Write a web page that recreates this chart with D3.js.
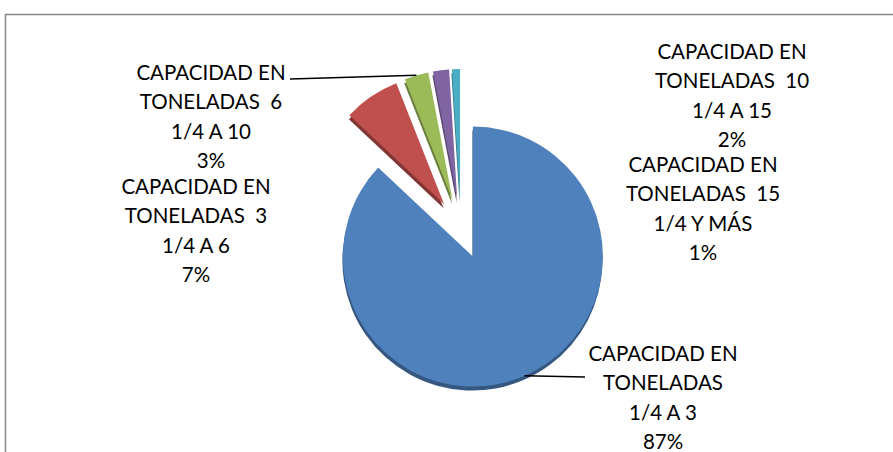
<!DOCTYPE html>
<html>
<head>
<meta charset="utf-8">
<script src="https://cdn.jsdelivr.net/npm/d3@7"></script>
<style>
  body { margin: 0; background: #fff; }
  text { font-family: Lato, "Open Sans", sans-serif; fill: #000; white-space: pre; }
</style>
</head>
<body>
<svg width="893" height="452"></svg>
<script>
// slice data, in drawing order (clockwise from 12 o'clock)
const categories = [
    "CAPACIDAD EN TONELADAS  1/4 A 3",
    "CAPACIDAD EN TONELADAS  3 1/4 A 6",
    "CAPACIDAD EN TONELADAS  6 1/4 A 10",
    "CAPACIDAD EN TONELADAS  10 1/4 A 15",
    "CAPACIDAD EN TONELADAS  15 1/4 Y MÁS"
];
const values = [87, 7, 3, 2, 1];

// label text as the chart wraps it
const labelLines = [
    ["CAPACIDAD EN", "TONELADAS", "1/4 A 3"],
    ["CAPACIDAD EN", "TONELADAS  3", "1/4 A 6"],
    ["CAPACIDAD EN", "TONELADAS  6", "1/4 A 10"],
    ["CAPACIDAD EN", "TONELADAS  10", "1/4 A 15"],
    ["CAPACIDAD EN", "TONELADAS  15", "1/4 Y MÁS"]
];

const colors = ["#4f81bd", "#c0504d", "#9bbb59", "#8064a2", "#4bacc6"];

// layout: label centre x / first baseline, and where leader lines end
const labelPos = [[663, 361], [196, 194], [211, 80], [732, 59], [703, 172]];
const leaderEnd = { 0: [585, 377], 2: [290, 79] };

var svg = d3.select("svg"),
    width = +svg.attr("width"),
    height = +svg.attr("height");

// chart frame (right and bottom fall outside the picture)
svg.append("rect")
    .attr("x", 5.5)
    .attr("y", 14.5)
    .attr("width", width + 20)
    .attr("height", height + 20)
    .attr("fill", "none")
    .attr("stroke", "#878787")
    .attr("stroke-width", 1.5);

const cx = 461, cy = 229, radius = 130, explode = 30, lineH = 29.3;

var pie = d3.pie().sort(null).value(d => d);
var arcs = pie(values);
var arc = d3.arc().innerRadius(0).outerRadius(radius);

const midAngle = d => (d.startAngle + d.endAngle) / 2;
const offset = d => [explode * Math.sin(midAngle(d)), -explode * Math.cos(midAngle(d))];

var pieG = svg.append("g").attr("transform", `translate(${cx},${cy})`);

// slice side (3d depth), then top face
var slices = pieG.selectAll("g.slice")
    .data(arcs)
    .enter().append("g")
    .attr("class", "slice")
    .attr("transform", d => `translate(${offset(d)})`);

slices.append("path")
    .attr("d", arc)
    .attr("transform", "translate(-0.5,4)")
    .attr("fill", (d, i) => d3.color(colors[i]).darker(1.1));

slices.append("path")
    .attr("d", arc)
    .attr("fill", (d, i) => colors[i]);

// leader lines
Object.keys(leaderEnd).forEach(k => {
    const d = arcs[k], o = offset(d), a = midAngle(d);
    svg.append("line")
        .attr("x1", cx + o[0] + radius * Math.sin(a))
        .attr("y1", cy + o[1] - radius * Math.cos(a))
        .attr("x2", leaderEnd[k][0])
        .attr("y2", leaderEnd[k][1])
        .attr("stroke", "#000")
        .attr("stroke-width", 1.5);
});

// data labels
var pct = d3.format(".0%");
var total = d3.sum(values);
labelLines.forEach((lines, i) => {
    const t = svg.append("text")
        .attr("x", labelPos[i][0])
        .attr("y", labelPos[i][1])
        .attr("text-anchor", "middle")
        .style("font-size", "20.5px");
    lines.concat([pct(values[i] / total)]).forEach((s, j) => {
        t.append("tspan")
            .attr("x", labelPos[i][0])
            .attr("dy", j ? lineH : 0)
            .text(s);
    });
});
</script>
</body>
</html>
